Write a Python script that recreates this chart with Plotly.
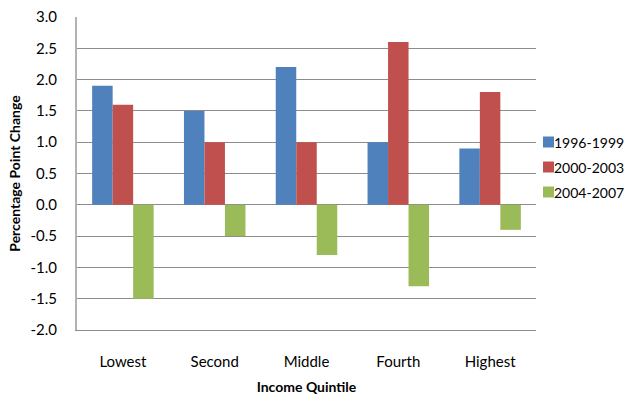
import plotly.graph_objects as go

categories = ["Lowest", "Second", "Middle", "Fourth", "Highest"]
series_names = ["1996-1999", "2000-2003", "2004-2007"]
values_1996_1999 = [1.9, 1.5, 2.2, 1.0, 0.9]
values_2000_2003 = [1.6, 1.0, 1.0, 2.6, 1.8]
values_2004_2007 = [-1.5, -0.5, -0.8, -1.3, -0.4]
colors = ["#4f81bd", "#c0504d", "#9bbb59"]
y_ticks = [3.0, 2.5, 2.0, 1.5, 1.0, 0.5, 0.0, -0.5, -1.0, -1.5, -2.0]

font_family = "Lato, Open Sans, Liberation Sans, sans-serif"

fig = go.Figure()
for name, vals, col in zip(series_names,
                           [values_1996_1999, values_2000_2003, values_2004_2007],
                           colors):
    fig.add_trace(go.Bar(x=categories, y=vals, name=name, showlegend=False,
                         marker=dict(color=col, line=dict(width=0))))

# Legend drawn beside the plot: small colour squares with labels
W, H = 629, 398
ML, MR, MT, MB = 77, 93, 17, 68
PW, PH = W - ML - MR, H - MT - MB
legend_left_px, legend_top_px, legend_step_px, sq = 543, 142, 25, 11
for i, (name, col) in enumerate(zip(series_names, colors)):
    cy = legend_top_px + i * legend_step_px
    fig.add_shape(type="rect", xref="paper", yref="paper",
                  x0=(legend_left_px - ML) / PW,
                  x1=(legend_left_px + sq - ML) / PW,
                  y0=(H - MB - (cy + sq / 2)) / PH,
                  y1=(H - MB - (cy - sq / 2)) / PH,
                  fillcolor=col, line=dict(width=0))
    fig.add_annotation(xref="paper", yref="paper",
                       x=(legend_left_px + sq - 1 - ML) / PW,
                       y=(H - MB - cy) / PH,
                       text=name, showarrow=False, xanchor="left", yanchor="middle",
                       borderpad=0, font=dict(size=14, color="#000000"))

fig.update_layout(
    width=W, height=H,
    margin=dict(l=ML, r=MR, t=MT, b=MB, autoexpand=False),
    paper_bgcolor="white", plot_bgcolor="white",
    barmode="group", bargap=0.33, bargroupgap=0,
    font=dict(family=font_family, size=15, color="#000000"),
    showlegend=False,
    xaxis=dict(
        title=dict(text="<b>Income Quintile</b>", font=dict(size=14), standoff=13),
        tickfont=dict(size=15), showgrid=False,
        showline=True, linecolor="#8c8c8c", linewidth=1,
        ticks="", ticklabelstandoff=18,
    ),
    yaxis=dict(
        title=dict(text="<b>Percentage Point Change</b>", font=dict(size=14), standoff=7),
        range=[-2.0, 3.0], tickvals=y_ticks,
        ticktext=[f"{v:.1f}" for v in y_ticks],
        tickfont=dict(size=15),
        showgrid=True, gridcolor="#8c8c8c", gridwidth=1,
        zeroline=True, zerolinecolor="#8c8c8c", zerolinewidth=1,
        showline=True, linecolor="#b3b3b3", linewidth=2,
        ticks="", ticklabelstandoff=15,
    ),
)

fig.write_html("out.html")
